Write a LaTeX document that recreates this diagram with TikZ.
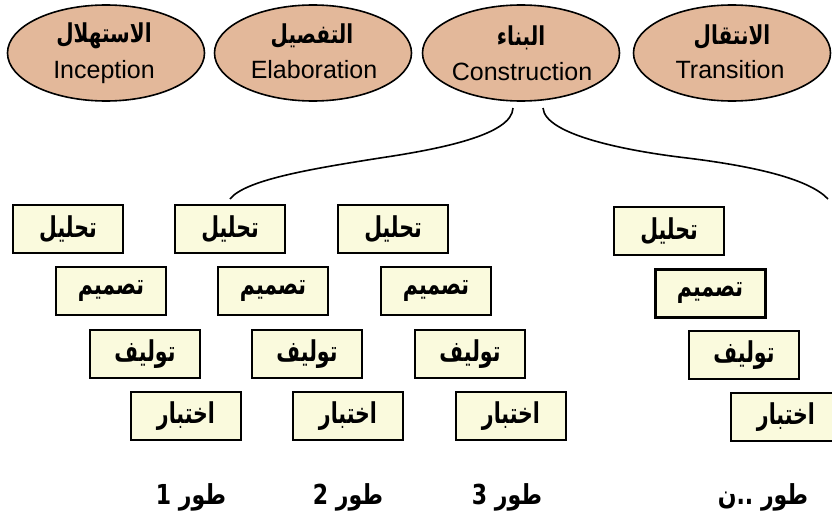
\documentclass[tikz,border=0pt]{standalone}
\usepackage{fontspec}
\setmainfont{Liberation Sans}
\newfontfamily\arabicfont[Script=Arabic]{DejaVu Sans}
\TeXXeTstate=1
\usetikzlibrary{shapes.geometric}
\definecolor{phasefill}{HTML}{E3B89A}
\definecolor{boxfill}{HTML}{FAFADD}
\newcommand{\tallar}[2][1.4]{\scalebox{1}[#1]{#2}}
\begin{document}
\begin{tikzpicture}[x=1pt,y=-1pt,
  phase/.style={ellipse, draw=black, line width=1.6pt, fill=phasefill,
    minimum width=197pt, minimum height=96pt, inner sep=0pt},
  act/.style={draw=black, line width=2pt, fill=boxfill, minimum width=110pt,
    minimum height=48pt, inner sep=0pt,
    font=\arabicfont\bfseries\fontsize{20.5}{24}\selectfont},
  artext/.style={inner sep=0pt, font=\arabicfont\bfseries\fontsize{20}{24}\selectfont},
  latext/.style={inner sep=0pt, anchor=base, font=\fontsize{25}{29}\selectfont},
  steplabel/.style={inner sep=0pt, font=\arabicfont\bfseries\fontsize{22}{26}\selectfont},
  link/.style={draw=black, line width=1.6pt}]
\useasboundingbox (0,0) rectangle (832,522);

% phases
\node[phase] (inc) at (106,53) {};
\node[phase] (ela) at (313,53) {};
\node[phase] (con) at (521,53) {};
\node[phase] (tra) at (732,53) {};
\node[artext] (incA) at (104,36) {\tallar[1.3]{\beginR الاستهلال\endR}};
\node[artext] (elaA) at (312,36) {\tallar[1.3]{\beginR التفصيل\endR}};
\node[artext] (conA) at (521,38) {\tallar[1.3]{\beginR البناء\endR}};
\node[artext] (traA) at (732,37) {\tallar[1.3]{\beginR الانتقال\endR}};
\node[latext] (incL) at (104,78) {Inception};
\node[latext] (elaL) at (314,78) {Elaboration};
\node[latext] (conL) at (522,80) {Construction};
\node[latext] (traL) at (730,78) {Transition};

% iteration 1
\node[act] (a1) at (68,229) {\tallar{\beginR تحليل\endR}};
\node[act] (d1) at (111,291) {\tallar{\beginR تصميم\endR}};
\node[act] (i1) at (145,354) {\tallar{\beginR توليف\endR}};
\node[act] (t1) at (186,416) {\tallar{\beginR اختبار\endR}};
% iteration 2
\node[act] (a2) at (230,229) {\tallar{\beginR تحليل\endR}};
\node[act] (d2) at (273,291) {\tallar{\beginR تصميم\endR}};
\node[act] (i2) at (307,354) {\tallar{\beginR توليف\endR}};
\node[act] (t2) at (348,416) {\tallar{\beginR اختبار\endR}};
% iteration 3
\node[act] (a3) at (393,229) {\tallar{\beginR تحليل\endR}};
\node[act] (d3) at (436,291) {\tallar{\beginR تصميم\endR}};
\node[act] (i3) at (470,354) {\tallar{\beginR توليف\endR}};
\node[act] (t3) at (511,416) {\tallar{\beginR اختبار\endR}};
% iteration n
\node[act] (a4) at (669,231) {\tallar{\beginR تحليل\endR}};
\node[act, line width=3pt] (d4) at (710,293) {\tallar{\beginR تصميم\endR}};
\node[act] (i4) at (744,355) {\tallar{\beginR توليف\endR}};
\node[act] (t4) at (786,417) {\tallar{\beginR اختبار\endR}};

% iteration labels
\node[steplabel] (p1) at (191,497) {\tallar[1.25]{\beginR طور 1\endR}};
\node[steplabel] (p2) at (348,497) {\tallar[1.25]{\beginR طور 2\endR}};
\node[steplabel] (p3) at (507,497) {\tallar[1.25]{\beginR طور 3\endR}};
\node[steplabel] (p4) at (763,497) {\tallar[1.25]{\beginR طور ..\kern0pt ن\endR}};

% braces from Construction
\coordinate (cl) at (513,108);
\coordinate (cr) at (543,108);
\coordinate (lend) at (230,199);
\coordinate (rend) at (828,199);
\coordinate (lmid) at (380,158);
\coordinate (rmid) at (687,158);
\path[link] (cl) .. controls (512,135) and (440,149) .. (lmid)
  .. controls (310,169) and (245,180) .. (lend);
\path[link] (cr) .. controls (545,135) and (627,151) .. (rmid)
  .. controls (760,167) and (810,180) .. (rend);
\end{tikzpicture}
\end{document}
